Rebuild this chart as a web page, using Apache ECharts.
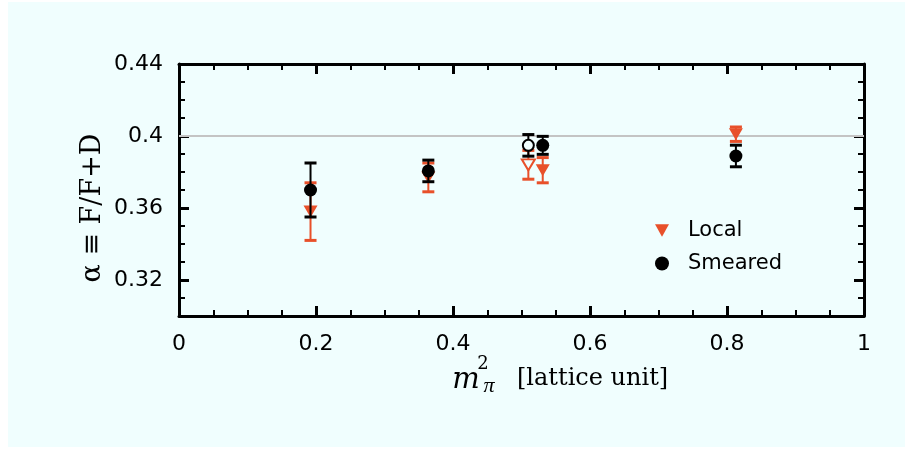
<!DOCTYPE html>
<html>
<head>
<meta charset="utf-8">
<script src="https://cdn.jsdelivr.net/npm/echarts@6/dist/echarts.min.js"></script>
<style>
html,body{margin:0;padding:0;background:#ffffff;}
#bg{position:absolute;left:8px;top:2px;width:897px;height:445px;background:#f0fefe;}
#chart{position:absolute;left:0;top:0;width:905px;height:452px;}
</style>
</head>
<body>
<div id="bg"></div>
<div id="chart"></div>
<script>
// ---- data ----
const localX = [0.192, 0.364, 0.531, 0.813];
const localY = [0.358, 0.377, 0.381, 0.401];
const localErr = [0.016, 0.008, 0.007, 0.004];

const localOpenX = [0.510];
const localOpenY = [0.384];
const localOpenErr = [0.008];

const smearedX = [0.192, 0.364, 0.531, 0.813];
const smearedY = [0.370, 0.3806, 0.3948, 0.3889];
const smearedErr = [0.015, 0.006, 0.005, 0.006];

const smearedOpenX = [0.510];
const smearedOpenY = [0.3948];
const smearedOpenErr = [0.006];

const yMajorTicks = [0.32, 0.36, 0.40, 0.44];
const referenceLine = 0.40;

const ORANGE = '#e8502a';
const BG = '#f0fefe';

function pts(xs, ys) { return xs.map((x, i) => [x, ys[i]]); }
function errs(xs, ys, es) { return xs.map((x, i) => [x, ys[i] - es[i], ys[i] + es[i]]); }

function errRender(color, lw) {
  return function (params, api) {
    const x = api.value(0), lo = api.value(1), hi = api.value(2);
    const a = api.coord([x, lo]), b = api.coord([x, hi]);
    const w = 6;
    const st = { stroke: color, lineWidth: lw };
    return {
      type: 'group',
      children: [
        { type: 'line', shape: { x1: a[0], y1: a[1], x2: b[0], y2: b[1] }, style: st },
        { type: 'line', shape: { x1: a[0] - w, y1: a[1], x2: a[0] + w, y2: a[1] }, style: { stroke: color, lineWidth: lw + 1 } },
        { type: 'line', shape: { x1: b[0] - w, y1: b[1], x2: b[0] + w, y2: b[1] }, style: { stroke: color, lineWidth: lw + 1 } }
      ]
    };
  };
}

const tickFont = { fontFamily: 'DejaVu Sans', fontSize: 22, color: '#000' };
const axisLine = { show: true, lineStyle: { color: '#000', width: 3 } };

function xAx(pos, labels) {
  return {
    type: 'value', min: 0, max: 1, interval: 0.2, position: pos,
    axisLine: axisLine,
    axisTick: { show: true, inside: true, length: 10, lineStyle: { color: '#000', width: 3 } },
    minorTick: { show: true, splitNumber: 4, length: 6, lineStyle: { color: '#000', width: 2 } },
    splitLine: { show: false }, minorSplitLine: { show: false },
    axisLabel: labels ? Object.assign({ show: true, margin: 17 }, tickFont) : { show: false }
  };
}
function yMinor(pos, labels) {
  return {
    type: 'value', min: 0.30, max: 0.44, interval: 0.01, position: pos,
    axisLine: axisLine,
    axisTick: { show: true, inside: true, length: 6, lineStyle: { color: '#000', width: 2 } },
    splitLine: { show: false },
    axisLabel: labels ? Object.assign({
      show: true, margin: 16,
      formatter: function (v) { const r = Math.round(v * 100); return r % 4 === 0 ? String(r / 100) : ''; }
    }, tickFont) : { show: false }
  };
}
function yMajor(pos) {
  return {
    type: 'value', min: 0.30, max: 0.44, interval: 0.01, position: pos,
    axisLine: { show: false },
    axisTick: { show: true, inside: true, length: 10, customValues: yMajorTicks, lineStyle: { color: '#000', width: 3 } },
    splitLine: { show: false },
    axisLabel: { show: false }
  };
}

const chart = echarts.init(document.getElementById('chart'), null, { renderer: 'canvas' });
chart.setOption({
  animation: false,
  backgroundColor: 'transparent',
  grid: { left: 179, right: 41, top: 64, bottom: 136 },
  xAxis: [xAx('bottom', true), xAx('top', false)],
  yAxis: [yMinor('left', true), yMajor('left'), yMinor('right', false), yMajor('right')],
  legend: {
    orient: 'vertical', left: 650, top: 215, itemGap: 12,
    itemWidth: 14, itemHeight: 14,
    textStyle: { fontFamily: 'DejaVu Sans', fontSize: 21, color: '#000', padding: [0, 0, 0, 14] },
    data: [
      { name: 'Local', icon: 'path://M0,0 L10,0 L5,9 Z', itemStyle: { color: ORANGE, opacity: 1 } },
      { name: 'Smeared', icon: 'circle', itemStyle: { color: '#000', opacity: 1 } }
    ]
  },
  graphic: [
    { type: 'text', x: 93, y: 208, rotation: Math.PI / 2,
      style: { text: 'α ≡ F/F+D', font: '27px "DejaVu Serif"', fill: '#000', align: 'center', verticalAlign: 'middle' } },
    { type: 'text', x: 466, y: 380,
      style: { text: 'm', font: 'italic 29px "DejaVu Serif"', fill: '#000', align: 'center', verticalAlign: 'middle' } },
    { type: 'text', x: 483, y: 364,
      style: { text: '2', font: '18px "DejaVu Serif"', fill: '#000', align: 'center', verticalAlign: 'middle' } },
    { type: 'text', x: 489, y: 386,
      style: { text: 'π', font: 'italic 22px "Liberation Serif"', fill: '#000', align: 'center', verticalAlign: 'middle' } },
    { type: 'text', x: 517, y: 379,
      style: { text: '[lattice unit]', font: '24px "DejaVu Serif"', fill: '#000', align: 'left', verticalAlign: 'middle' } }
  ],
  series: [
    { type: 'line', data: [[0, referenceLine], [1, referenceLine]], symbol: 'none', silent: true,
      lineStyle: { color: '#c4c4c4', width: 2 }, z: 1 },
    { type: 'custom', renderItem: errRender(ORANGE, 2), data: errs(localX, localY, localErr), z: 2 },
    { type: 'custom', renderItem: errRender(ORANGE, 2), data: errs(localOpenX, localOpenY, localOpenErr), z: 2 },
    { name: 'Local', type: 'scatter', data: pts(localX, localY), symbol: 'triangle', symbolRotate: 180,
      symbolSize: [14, 12], itemStyle: { color: ORANGE, opacity: 1 }, z: 3 },
    { type: 'scatter', data: pts(localOpenX, localOpenY), symbol: 'triangle', symbolRotate: 180,
      symbolSize: [13, 11], itemStyle: { color: BG, borderColor: ORANGE, borderWidth: 2, opacity: 1 }, z: 3 },
    { type: 'custom', renderItem: errRender('#000', 2), data: errs(smearedX, smearedY, smearedErr), z: 4 },
    { type: 'custom', renderItem: errRender('#000', 2), data: errs(smearedOpenX, smearedOpenY, smearedOpenErr), z: 4 },
    { name: 'Smeared', type: 'scatter', data: pts(smearedX, smearedY), symbol: 'circle',
      symbolSize: 13, itemStyle: { color: '#000', opacity: 1 }, z: 5 },
    { type: 'scatter', data: pts(smearedOpenX, smearedOpenY), symbol: 'circle',
      symbolSize: 11, itemStyle: { color: BG, borderColor: '#000', borderWidth: 2, opacity: 1 }, z: 5 }
  ]
});
</script>
</body>
</html>
